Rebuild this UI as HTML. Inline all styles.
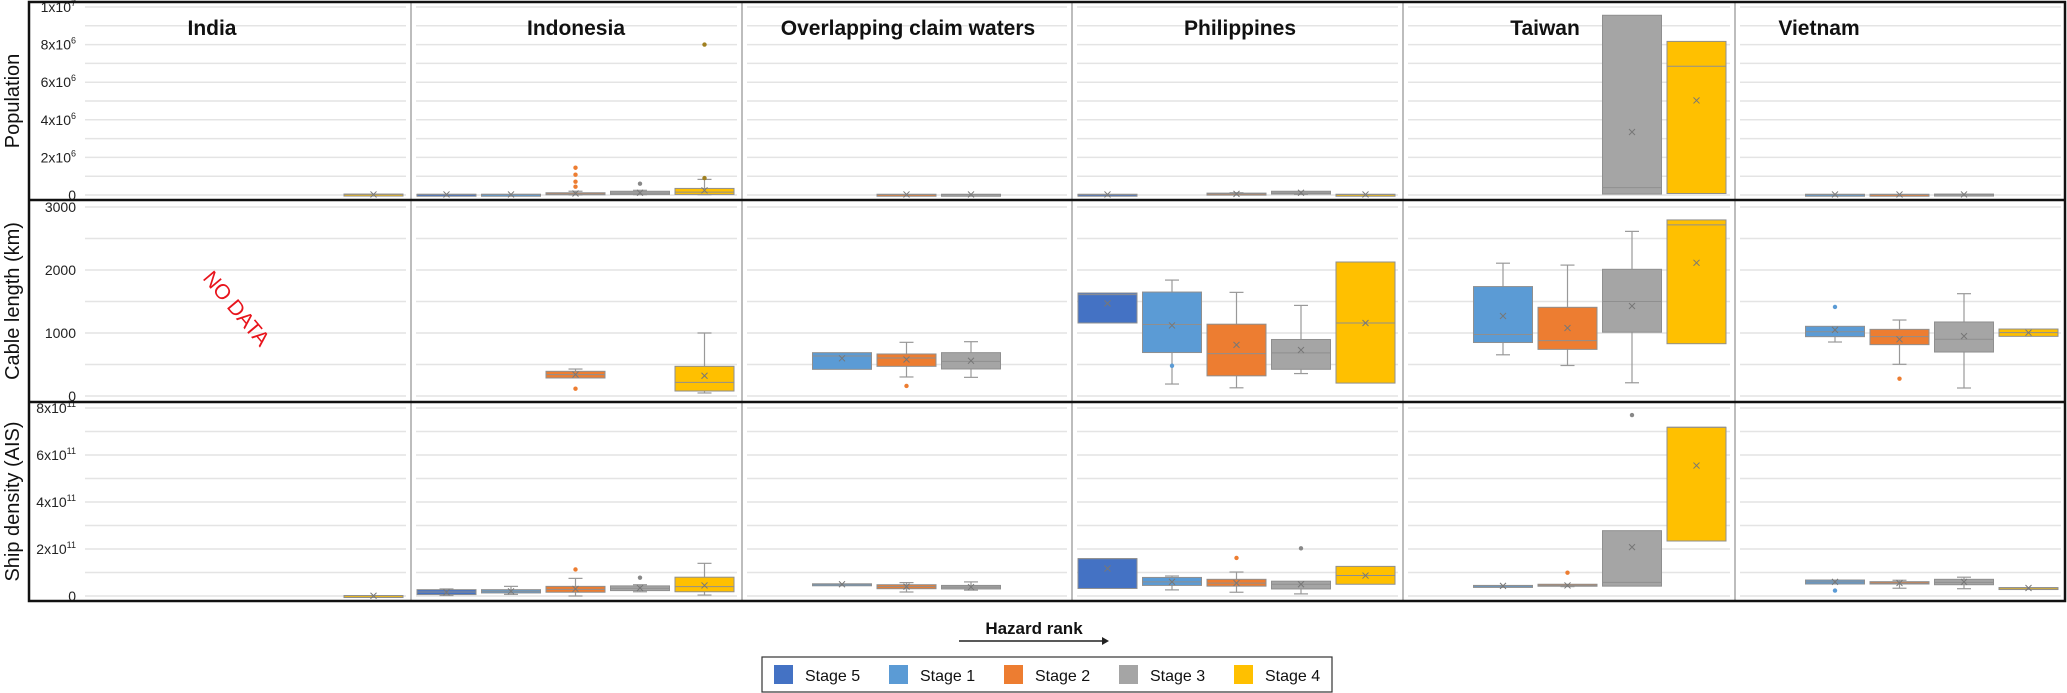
<!DOCTYPE html>
<html><head><meta charset="utf-8"><style>
html,body{margin:0;padding:0;background:#fff;}
svg{display:block;font-family:"Liberation Sans",sans-serif;}
</style></head><body>
<svg id="chart" width="2067" height="693" viewBox="0 0 2067 693" xmlns="http://www.w3.org/2000/svg"></svg>
<script>
// ---- data ----
const countries = ["India","Indonesia","Overlapping claim waters","Philippines","Taiwan","Vietnam"];
const stages = ["Stage 5","Stage 1","Stage 2","Stage 3","Stage 4"];
const stageColors = ["#4472C4","#5B9BD5","#ED7D31","#A5A5A5","#FFC000"];
// box rows: [countryIdx, stageIdx, whiskerLow, q1, median, q3, whiskerHigh, mean]
const popBoxes = [
 [0,4,0.02,0.02,0.03,0.05,0.05,0.03],
 [1,0,0.02,0.02,0.03,0.04,0.04,0.03],
 [1,1,0.02,0.02,0.03,0.04,0.04,0.03],
 [1,2,0.01,0.02,0.05,0.12,0.2,0.08],
 [1,3,0.02,0.03,0.1,0.2,0.25,0.12],
 [1,4,0.02,0.03,0.15,0.35,0.83,0.25],
 [2,2,0.01,0.02,0.02,0.04,0.04,0.03],
 [2,3,0.01,0.02,0.02,0.04,0.04,0.03],
 [3,0,0.01,0.02,0.02,0.04,0.04,0.03],
 [3,2,0.02,0.03,0.06,0.1,0.12,0.06],
 [3,3,0.03,0.05,0.1,0.2,0.2,0.12],
 [3,4,0.01,0.02,0.02,0.04,0.04,0.03],
 [4,3,0.05,0.05,0.39,9.56,9.56,3.35],
 [4,4,0.08,0.08,6.85,8.17,8.17,5.03],
 [5,1,0.01,0.02,0.02,0.04,0.04,0.03],
 [5,2,0.01,0.02,0.02,0.04,0.04,0.03],
 [5,3,0.01,0.02,0.02,0.05,0.05,0.03]
];
// outliers: [countryIdx, stageIdx, value]
const popOutliers = [[1,2,1.45],[1,2,1.08],[1,2,0.71],[1,2,0.44],[1,3,0.6],[1,4,0.9],[1,4,8.0]];
const cableBoxes = [
 [1,2,376,286,339,392,428,340],
 [1,4,48,79,217,471,1000,322],
 [2,1,423,423,635,688,688,598],
 [2,2,302,471,603,667,852,580],
 [2,3,296,429,550,688,862,560],
 [3,0,1159,1159,1610,1635,1635,1470],
 [3,1,190,690,1135,1650,1840,1120],
 [3,2,130,320,673,1140,1645,812],
 [3,3,356,424,684,897,1438,730],
 [3,4,205,205,1159,2127,2127,1159],
 [4,1,654,849,976,1737,2108,1270],
 [4,2,484,740,879,1408,2078,1079],
 [4,3,210,1013,1500,2011,2613,1428],
 [4,4,830,830,2716,2795,2795,2114],
 [5,1,857,942,1020,1106,1106,1050],
 [5,2,503,815,942,1058,1206,900],
 [5,3,127,698,900,1175,1624,950],
 [5,4,947,947,1005,1063,1063,1005]
];
const cableOutliers = [[1,2,116],[2,2,159],[3,1,480],[5,1,1413],[5,2,275]];
const shipBoxes = [
 [0,4,0.0,0.0,0.01,0.02,0.02,0.01],
 [1,0,0.02,0.06,0.17,0.27,0.3,0.16],
 [1,1,0.07,0.13,0.2,0.27,0.41,0.2],
 [1,2,0.0,0.16,0.28,0.41,0.75,0.3],
 [1,3,0.18,0.23,0.33,0.43,0.48,0.34],
 [1,4,0.04,0.18,0.4,0.8,1.39,0.45],
 [2,1,0.48,0.48,0.5,0.52,0.52,0.5],
 [2,2,0.17,0.31,0.4,0.48,0.57,0.4],
 [2,3,0.25,0.3,0.38,0.45,0.6,0.38],
 [3,0,0.32,0.32,1.59,1.59,1.59,1.17],
 [3,1,0.26,0.45,0.6,0.79,0.85,0.6],
 [3,2,0.16,0.42,0.55,0.71,1.02,0.55],
 [3,3,0.09,0.3,0.5,0.63,0.63,0.5],
 [3,4,0.5,0.5,0.87,1.26,1.26,0.87],
 [4,1,0.42,0.42,0.43,0.45,0.45,0.43],
 [4,2,0.4,0.42,0.45,0.5,0.5,0.45],
 [4,3,0.42,0.42,0.58,2.78,2.78,2.08],
 [4,4,2.34,2.34,7.18,7.18,7.18,5.55],
 [5,1,0.51,0.51,0.6,0.68,0.68,0.6],
 [5,2,0.33,0.51,0.55,0.61,0.67,0.55],
 [5,3,0.31,0.48,0.58,0.71,0.8,0.6],
 [5,4,0.33,0.33,0.34,0.36,0.36,0.34]
];
const shipOutliers = [[1,2,1.13],[1,3,0.78],[3,2,1.62],[3,3,2.03],[4,2,0.99],[4,3,7.7],[5,1,0.23]];
const popTicks = ["0","2x10|6","4x10|6","6x10|6","8x10|6","1x10|7"];
const popTickValues = [0,2,4,6,8,10];
const cableTicks = ["0","1000","2000","3000"];
const cableTickValues = [0,1000,2000,3000];
const shipTicks = ["0","2x10|11","4x10|11","6x10|11","8x10|11"];
const shipTickValues = [0,2,4,6,8];

// ---- layout ----
const NS = "http://www.w3.org/2000/svg";
const svg = document.getElementById("chart");
const colEdges = [80,411,742,1072,1403,1735,2066];
const rows = [
 {name:"population", title:"Population", y0:195, y1:7, max:10, grid:1, boxes:popBoxes, outs:popOutliers, ticks:popTicks, tv:popTickValues, top:2, bot:200},
 {name:"cable-length", title:"Cable length (km)", y0:396, y1:207, max:3000, grid:500, boxes:cableBoxes, outs:cableOutliers, ticks:cableTicks, tv:cableTickValues, top:200, bot:402},
 {name:"ship-density", title:"Ship density (AIS)", y0:596, y1:408, max:8, grid:1, boxes:shipBoxes, outs:shipOutliers, ticks:shipTicks, tv:shipTickValues, top:402, bot:601}
];
function el(tag, attrs, parent){
  const e = document.createElementNS(NS, tag);
  for (const k in attrs) e.setAttribute(k, attrs[k]);
  (parent||svg).appendChild(e); return e;
}
function yScale(r, v){ return r.y0 - (v / r.max) * (r.y0 - r.y1); }
function slotLeft(c, s){ return colEdges[c] + 6 + 64.5 * s; }

rows.forEach(r => {
  const g = el("g", {});
  
  
  // gridlines
  for (let v = 0; v <= r.max + 1e-9; v += r.grid) {
    const y = yScale(r, v);
    for (let c = 0; c < 6; c++) {
      const x1 = c === 0 ? 85 : colEdges[c] + 5;
      const gl = el("line", {x1:x1, x2:colEdges[c+1]-5, y1:y, y2:y, stroke:"#e4e4e4", "stroke-width":1.5}, g);
      
      
    }
  }
  // tick labels
  r.ticks.forEach((t, i) => {
    const y = yScale(r, r.tv[i]);
    const parts = t.split("|");
    const tx = el("text", {x:76, y:y+5, "text-anchor":"end", "font-size":14, fill:"#222", "font-family":"Liberation Sans Narrow, Liberation Sans, sans-serif"}, g);
    
    
    tx.appendChild(document.createTextNode(parts[0]));
    if (parts[1]) {
      const sp = el("tspan", {dy:-6, "font-size":9}, tx);
      sp.textContent = parts[1];
    }
  });
  // axis title
  const cy = (r.top + r.bot) / 2;
  const at = el("text", {x:0, y:0, transform:`translate(19,${cy}) rotate(-90)`, "text-anchor":"middle", "font-size":20, fill:"#111"}, g);
  
  
  at.textContent = r.title;
  // boxes
  r.boxes.forEach(b => {
    const [c, s, lo, q1, med, q3, hi, mean] = b;
    const x = slotLeft(c, s), w = 59, cx = x + w / 2;
    const bg = el("g", {}, g);
    
    
    const yhi = yScale(r, hi), ylo = yScale(r, lo), yq3 = yScale(r, q3), yq1 = yScale(r, q1);
    if (hi > q3) { el("line",{x1:cx,x2:cx,y1:yhi,y2:yq3,stroke:"#999","stroke-width":1.2},bg); el("line",{x1:cx-7,x2:cx+7,y1:yhi,y2:yhi,stroke:"#999","stroke-width":1.2},bg); }
    if (lo < q1) { el("line",{x1:cx,x2:cx,y1:yq1,y2:ylo,stroke:"#999","stroke-width":1.2},bg); el("line",{x1:cx-7,x2:cx+7,y1:ylo,y2:ylo,stroke:"#999","stroke-width":1.2},bg); }
    const h = Math.max(yq1 - yq3, 2);
    el("rect",{x:x, y:yq3, width:w, height:h, fill:stageColors[s], stroke:"#8f8f8f", "stroke-width":1},bg);
    const ym = yScale(r, med);
    el("line",{x1:x, x2:x+w, y1:ym, y2:ym, stroke:"#8f8f8f","stroke-width":1},bg);
    const yme = yScale(r, mean);
    el("path",{d:`M${cx-3} ${yme-3}L${cx+3} ${yme+3}M${cx+3} ${yme-3}L${cx-3} ${yme+3}`, stroke:"#777","stroke-width":1},bg);
  });
  r.outs.forEach(o => {
    const [c, s, v] = o;
    const p = el("circle",{cx:slotLeft(c,s)+29.5, cy:yScale(r,v), r:2.2, fill:stageColors[s]==="#FFC000"?"#a08020":stageColors[s]==="#A5A5A5"?"#888":stageColors[s]}, g);
    
    
  });
});

// column dividers
for (let c = 1; c < 6; c++) {
  const d = el("line",{x1:colEdges[c], x2:colEdges[c], y1:2, y2:601, stroke:"#bdbdbd", "stroke-width":2});
  
  
}
// row separators and frame
[200,402].forEach(y => {
  const l = el("line",{x1:28, x2:2066, y1:y, y2:y, stroke:"#111", "stroke-width":2.5});
  
  
});
const fr = el("rect",{x:29, y:2, width:2036, height:599, fill:"none", stroke:"#111", "stroke-width":2.5});



// column titles
const titleX = [212,576,908,1240,1545,1819];
countries.forEach((n, i) => {
  const t = el("text",{x:titleX[i], y:35, "text-anchor":"middle", "font-size":21, "font-weight":"bold", fill:"#111"});
  
  
  t.textContent = n;
});
// no data
const nd = el("text",{x:0, y:0, transform:"translate(231,313) rotate(50)", "text-anchor":"middle", "font-size":21, fill:"#e8141c"});


nd.textContent = "NO DATA";

// hazard rank
const hr = el("text",{x:1034, y:634, "text-anchor":"middle", "font-size":17, "font-weight":"bold", fill:"#111", "font-family":"Liberation Sans Narrow, Liberation Sans, sans-serif"});


hr.textContent = "Hazard rank";
const ar = el("line",{x1:959, x2:1103, y1:641, y2:641, stroke:"#222", "stroke-width":1.5});


el("path",{d:"M1102 637L1109 641L1102 645Z", fill:"#222"});

// legend
const lg = el("g",{});


el("rect",{x:762, y:657, width:570, height:35, fill:"#fff", stroke:"#333", "stroke-width":1.2}, lg);
stages.forEach((s, i) => {
  const eg = el("g",{}, lg);
  
  
  el("rect",{x:774+115*i, y:665, width:19, height:19, fill:stageColors[i]}, eg);
  const t = el("text",{x:805+115*i, y:681, "font-size":16, fill:"#111", "font-family":"Liberation Sans Narrow, Liberation Sans, sans-serif"}, eg);
  t.textContent = s;
});
</script>
</body></html>
